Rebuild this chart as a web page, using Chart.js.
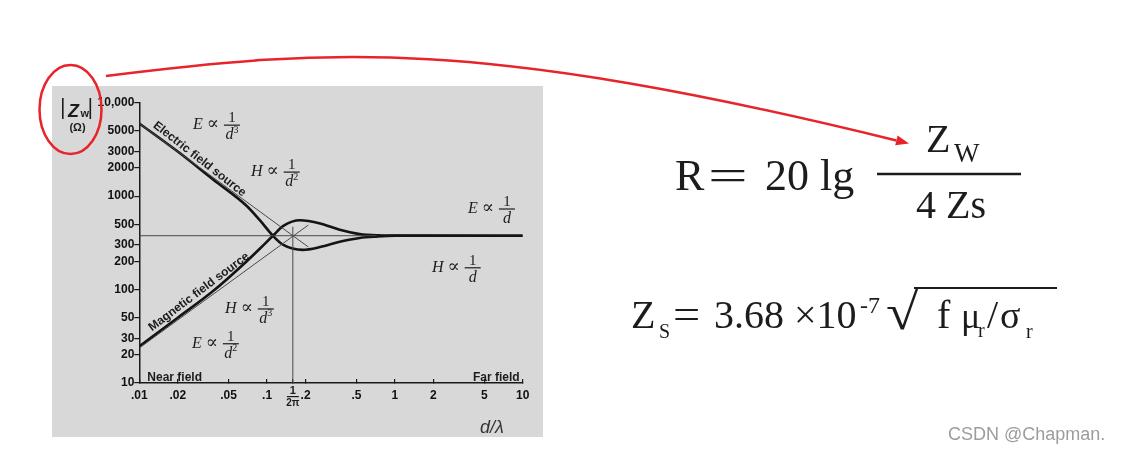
<!DOCTYPE html>
<html>
<head>
<meta charset="utf-8">
<title>Wave impedance</title>
<script src="https://cdn.jsdelivr.net/npm/chart.js@4.4.0/dist/chart.umd.min.js"></script>
<style>
    html, body { margin: 0; padding: 0; background: #fff; }
    body { width: 1123px; height: 455px; position: relative; overflow: hidden; }
    #panel { position: absolute; left: 52px; top: 86px; width: 491px; height: 351px; background: #d8d8d8; }
    #panel canvas { position: absolute; left: 0; top: 0; }
    #overlay { position: absolute; left: 0; top: 0; }
</style>
</head>
<body>
<div id="panel"><canvas id="chart" width="491" height="351"></canvas></div>

<svg id="overlay" width="1123" height="455" fill="#1c1c1c" font-family="'Liberation Serif', 'Times New Roman', serif">
    <ellipse cx="70.5" cy="109.5" rx="31" ry="44.5" fill="none" stroke="#e8242b" stroke-width="2.5"/>
    <path d="M106,76 C330,48 480,38 896.4,140.5" fill="none" stroke="#e8242b" stroke-width="2.5"/>
    <polygon points="909,143.5 895.2,145.3 897.6,135.6" fill="#e8242b"/>

    <!-- R = 20 lg Zw / 4 Zs -->
    <text x="675" y="190" font-size="44">R</text>
    <text transform="translate(708,190) scale(1.6,1)" font-size="44">=</text>
    <text x="765" y="190" font-size="44">20 lg</text>
    <line x1="877" y1="174" x2="1021" y2="174" stroke="#1c1c1c" stroke-width="2.6"/>
    <text x="926" y="152" font-size="40">Z</text>
    <text x="954" y="162" font-size="27">W</text>
    <text x="916" y="218" font-size="40">4 Zs</text>

    <!-- Zs = 3.68 x10^-7 sqrt(f mu_r / sigma_r) -->
    <text x="631" y="328" font-size="40">Z</text>
    <text x="659" y="338" font-size="20">S</text>
    <text transform="translate(673,328) scale(1.15,1)" font-size="42">=</text>
    <text x="714" y="328" font-size="40">3.68</text>
    <text x="794" y="328" font-size="40">×10</text>
    <text x="860" y="313" font-size="24">-7</text>
    <text transform="translate(886,329) scale(1.15,1)" font-size="51">√</text>
    <line x1="914" y1="288" x2="1057" y2="288" stroke="#1c1c1c" stroke-width="2"/>
    <text x="937" y="328" font-size="40">f</text>
    <text x="961" y="328" font-size="36">μ</text>
    <text x="978" y="337" font-size="20">r</text>
    <text x="987" y="328" font-size="40">/</text>
    <text x="1000" y="328" font-size="38">σ</text>
    <text x="1026" y="338" font-size="20">r</text>

    <text x="948" y="440" font-size="18" fill="#9c9c9c" font-family="'Liberation Sans', Arial, sans-serif">CSDN @Chapman.</text>
</svg>

<script>
// tick positions and labels
const xTickValues = [0.01, 0.02, 0.05, 0.1, 0.159, 0.2, 0.5, 1, 2, 5, 10];
const xTickLabels = ['.01', '.02', '.05', '.1', '', '.2', '.5', '1', '2', '5', '10'];
const yTickValues = [10, 20, 30, 50, 100, 200, 300, 500, 1000, 2000, 3000, 5000, 10000];
const yTickLabels = ['10', '20', '30', '50', '100', '200', '300', '500', '1000', '2000', '3000', '5000', '10,000'];

// |Zw| vs d/lambda
const electricD = [0.01, 0.02, 0.038, 0.069, 0.088, 0.111, 0.134, 0.19, 0.26, 0.37, 0.53, 0.72, 1, 10];
const electricZ = [6000, 3000, 1500, 790, 550, 377, 300, 266, 285, 325, 357, 369, 376, 377];
const magneticD = [0.01, 0.02, 0.038, 0.069, 0.088, 0.111, 0.134, 0.181, 0.26, 0.37, 0.53, 0.72, 1, 10];
const magneticZ = [24.6, 50, 97, 200, 275, 377, 480, 552, 510, 436, 392, 380, 378, 377];

// thin construction lines
const eAsymD = [0.01, 0.21];
const eAsymZ = [6000, 286];
const hAsymD = [0.01, 0.21];
const hAsymZ = [23.7, 490];
const freeD = [0.01, 0.72];
const freeZ = [377, 377];
const crossD = [0.159, 0.159];
const crossZ = [10, 470];

const fractionLabels = [
    { sym: 'E', pow: '3', d: 0.0263, z: 5750 },
    { sym: 'H', pow: '2', d: 0.0748, z: 1808 },
    { sym: 'E', pow: '', d: 3.73, z: 728 },
    { sym: 'H', pow: '', d: 1.95, z: 171 },
    { sym: 'H', pow: '3', d: 0.0469, z: 62 },
    { sym: 'E', pow: '2', d: 0.0258, z: 26.3 }
];
const sourceLabels = [
    { text: 'Electric field source', d: 0.0296, z: 2489, angle: 38 },
    { text: 'Magnetic field source', d: 0.0293, z: 94.4, angle: -37 }
];

const SANS = '"Liberation Sans", Arial, sans-serif';
const SERIF = '"Liberation Serif", "DejaVu Serif", serif';

document.addEventListener('DOMContentLoaded', function() {
    drawChart();
});

function pairs(xs, ys) {
    return xs.map((v, i) => ({ x: v, y: ys[i] }));
}

function thinLine(xs, ys) {
    return {
        data: pairs(xs, ys),
        showLine: true,
        borderColor: '#4a4a4a',
        borderWidth: 1,
        pointRadius: 0
    };
}

function thickLine(xs, ys) {
    return {
        data: pairs(xs, ys),
        showLine: true,
        borderColor: '#141414',
        borderWidth: 2.6,
        pointRadius: 0,
        cubicInterpolationMode: 'monotone'
    };
}

function drawFraction(ctx, px, py, lab) {
    ctx.textAlign = 'left';
    ctx.textBaseline = 'alphabetic';
    ctx.font = 'italic 16px ' + SERIF;
    ctx.fillText(lab.sym, px, py + 4);
    let w = ctx.measureText(lab.sym).width + 4;
    ctx.font = '18px ' + SERIF;
    ctx.fillText('\u221D', px + w, py + 4);
    w += ctx.measureText('\u221D').width;

    const cx = px + w + 13;
    ctx.fillRect(cx - 8, py - 0.6, 16, 1.2);

    ctx.font = '15px ' + SERIF;
    ctx.textAlign = 'center';
    ctx.fillText('1', cx, py - 3);

    ctx.textAlign = 'left';
    ctx.font = 'italic 16px ' + SERIF;
    const dw = ctx.measureText('d').width;
    ctx.font = '10px ' + SERIF;
    const pw = lab.pow ? ctx.measureText(lab.pow).width : 0;
    const start = cx - (dw + pw) / 2;
    ctx.font = 'italic 16px ' + SERIF;
    ctx.fillText('d', start, py + 14);
    if (lab.pow) {
        ctx.font = '10px ' + SERIF;
        ctx.fillText(lab.pow, start + dw, py + 7.5);
    }
}

const annotationPlugin = {
    id: 'annotations',
    afterDraw(chart) {
        const { ctx, chartArea } = chart;
        const xs = chart.scales.x;
        const ys = chart.scales.y;
        ctx.save();
        ctx.fillStyle = '#1c1c1c';

        fractionLabels.forEach(lab => {
            drawFraction(ctx, xs.getPixelForValue(lab.d), ys.getPixelForValue(lab.z), lab);
        });

        ctx.font = 'bold 12px ' + SANS;
        ctx.textAlign = 'center';
        ctx.textBaseline = 'middle';
        sourceLabels.forEach(lab => {
            ctx.save();
            ctx.translate(xs.getPixelForValue(lab.d), ys.getPixelForValue(lab.z));
            ctx.rotate(lab.angle * Math.PI / 180);
            ctx.fillText(lab.text, 0, 0);
            ctx.restore();
        });

        // field region captions
        ctx.textBaseline = 'alphabetic';
        ctx.textAlign = 'left';
        ctx.fillText('Near field', chartArea.left + 8, chartArea.bottom - 2);
        ctx.textAlign = 'right';
        ctx.fillText('Far field', chartArea.right - 3, chartArea.bottom - 2);

        // 1/2pi tick label
        const tx = xs.getPixelForValue(0.159);
        ctx.textAlign = 'center';
        ctx.font = 'bold 11px ' + SANS;
        ctx.fillText('1', tx, chartArea.bottom + 11);
        ctx.fillRect(tx - 6, chartArea.bottom + 13, 12, 1.2);
        ctx.font = 'bold 10px ' + SANS;
        ctx.fillText('2π', tx, chartArea.bottom + 23);

        // axis titles
        ctx.fillStyle = '#333';
        ctx.font = 'italic 18px ' + SANS;
        ctx.textAlign = 'left';
        ctx.fillText('d/λ', 428, 347);

        ctx.fillStyle = '#1c1c1c';
        ctx.fillRect(10, 12, 1.6, 21);
        ctx.fillRect(37.5, 12, 1.6, 21);
        ctx.font = 'italic bold 18px ' + SANS;
        ctx.fillText('Z', 16, 31);
        ctx.font = 'bold 11px ' + SANS;
        ctx.fillText('w', 28.5, 31);
        ctx.textAlign = 'center';
        ctx.fillText('(Ω)', 25.5, 45);

        ctx.restore();
    }
};

function drawChart() {
    const ctx = document.getElementById('chart').getContext('2d');
    const tickFont = { family: SANS, size: 12, weight: 'bold' };

    new Chart(ctx, {
        type: 'scatter',
        data: {
            datasets: [
                thinLine(eAsymD, eAsymZ),
                thinLine(hAsymD, hAsymZ),
                thinLine(freeD, freeZ),
                thinLine(crossD, crossZ),
                thickLine(electricD, electricZ),
                thickLine(magneticD, magneticZ)
            ]
        },
        options: {
            responsive: false,
            animation: false,
            devicePixelRatio: 1,
            layout: { padding: { left: 0.3, right: 20.3, top: 16.7, bottom: 0 } },
            plugins: {
                legend: { display: false },
                tooltip: { enabled: false }
            },
            scales: {
                x: {
                    type: 'logarithmic',
                    min: 0.01,
                    max: 10,
                    afterBuildTicks: s => { s.ticks = xTickValues.map(v => ({ value: v })); },
                    afterFit: s => { s.height = 54; },
                    border: { color: '#1a1a1a', width: 1.5 },
                    grid: { drawOnChartArea: false, tickLength: -4, color: '#1a1a1a', lineWidth: 1.2 },
                    ticks: {
                        autoSkip: false,
                        maxRotation: 0,
                        padding: 9,
                        color: '#111',
                        font: tickFont,
                        callback: (v, i) => xTickLabels[i]
                    }
                },
                y: {
                    type: 'logarithmic',
                    min: 10,
                    max: 10000,
                    afterBuildTicks: s => { s.ticks = yTickValues.map(v => ({ value: v })); },
                    afterFit: s => { s.width = 87; },
                    border: { color: '#1a1a1a', width: 1.5 },
                    grid: { drawOnChartArea: false, tickLength: 5, color: '#1a1a1a', lineWidth: 1.2 },
                    ticks: {
                        autoSkip: false,
                        padding: 0,
                        color: '#111',
                        font: tickFont,
                        callback: (v, i) => yTickLabels[i]
                    }
                }
            }
        },
        plugins: [annotationPlugin]
    });
}
</script>
</body>
</html>
